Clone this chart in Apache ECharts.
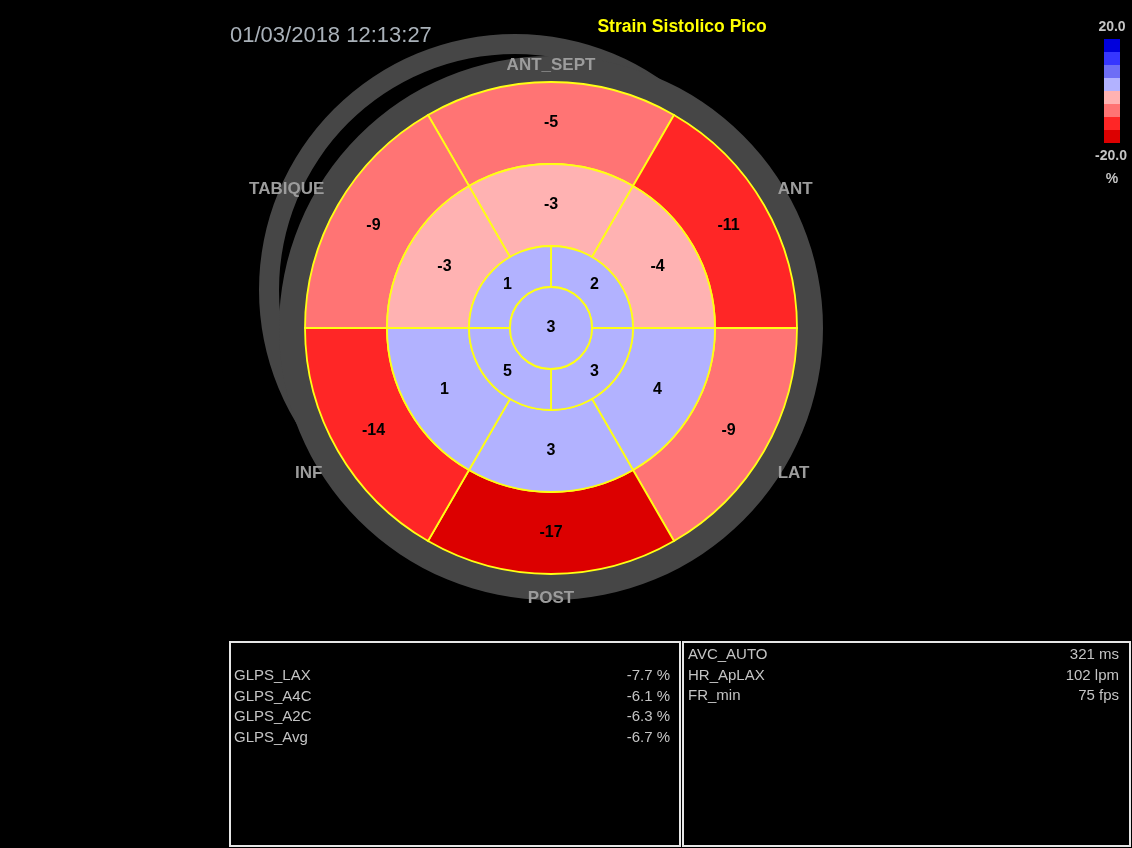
<!DOCTYPE html>
<html>
<head>
<meta charset="utf-8">
<script src="https://cdn.jsdelivr.net/npm/echarts@6/dist/echarts.min.js"></script>
<style>
  html, body { margin: 0; padding: 0; background: #000; }
  #chart { width: 1132px; height: 848px; }
</style>
</head>
<body>
<div id="chart"></div>
<script>
// Peak systolic strain (%), 17-segment bullseye
const regionNames = ['ANT_SEPT', 'ANT', 'LAT', 'POST', 'INF', 'TABIQUE'];
const basalValues = [-5, -11, -9, -17, -14, -9];   // same order as regionNames
const midValues = [-3, -4, 4, 3, 1, -3];
const apicalValues = [2, 3, 5, 1];                 // from 12 o'clock, clockwise
const apexValue = 3;

const scaleTicks = ['20.0', '-20.0'];
const scaleUnit = '%';
const scaleLevels = [-20, -15, -10, -5, 0, 5, 10, 15, 20];
const scaleColors = ['#dc0000', '#ff2626', '#ff7474', '#ffb2b2', '#b2b2ff', '#6e6ef6', '#3636ff', '#0000dc'];

const glpsNames = ['GLPS_LAX', 'GLPS_A4C', 'GLPS_A2C', 'GLPS_Avg'];
const glpsValues = [-7.7, -6.1, -6.3, -6.7];
const acqNames = ['AVC_AUTO', 'HR_ApLAX', 'FR_min'];
const acqValues = ['321 ms', '102 lpm', '75 fps'];

const titleText = 'Strain Sistolico Pico';
const stampText = '01/03/2018 12:13:27';

// ring extents in radius units: apex, apical, mid, basal
const RINGS = { apex: [0, 1], apical: [1, 2], mid: [2, 4], basal: [4, 6] };

function sixSegments(vals, ring) {
  return vals.map((v, i) => [ring[0], ring[1], -30 + 60 * i, 30 + 60 * i, v]);
}
const segData = [].concat(
  sixSegments(basalValues, RINGS.basal),
  sixSegments(midValues, RINGS.mid),
  apicalValues.map((v, i) => [RINGS.apical[0], RINGS.apical[1], 90 * i, 90 * i + 90, v]),
  [[RINGS.apex[0], RINGS.apex[1], 0, 360, apexValue]]
);

function renderSegment(params, api) {
  const cs = params.coordSys;
  const cx = cs.cx, cy = cs.cy;
  const r0v = api.value(0), r1v = api.value(1), a0 = api.value(2), a1 = api.value(3), v = api.value(4);
  const radiusPx = (rv) => { const p = api.coord([rv, 0]); return Math.hypot(p[0] - cx, p[1] - cy); };
  const p0 = api.coord([1, a0]);
  const start = Math.atan2(p0[1] - cy, p0[0] - cx);
  const end = start + (a1 - a0) * Math.PI / 180;
  const labelR = r0v === 0 ? 0 : (r0v + r1v) / 2;
  const lp = api.coord([labelR, (a0 + a1) / 2]);
  return {
    type: 'group',
    children: [
      {
        type: 'sector',
        shape: { cx: cx, cy: cy, r0: radiusPx(r0v), r: radiusPx(r1v), startAngle: start, endAngle: end, clockwise: true },
        style: { fill: api.visual('color'), stroke: '#ffff14', lineWidth: 1.8 }
      },
      {
        type: 'text',
        x: lp[0], y: lp[1],
        style: { text: String(v), fill: '#000', font: 'bold 16px Arial', align: 'center', verticalAlign: 'middle' }
      }
    ]
  };
}

const CX = 551, CY = 328, R = 246;
const GRAY = '#464646';
const TXT = '#c4c4c4';

const graphics = [
  // shadowed outer rim and the rim around the plot
  { type: 'ring', z: -5, shape: { cx: 515, cy: 290, r0: 236, r: 256 }, style: { fill: GRAY } },
  { type: 'ring', z: -4, shape: { cx: CX, cy: CY, r0: R - 2, r: 272 }, style: { fill: GRAY } },
  { type: 'text', x: 230, y: 36, style: { text: stampText, fill: '#a9b1b9', font: '22px Arial', verticalAlign: 'middle' } },
  { type: 'text', x: 682, y: 27, style: { text: titleText, fill: '#ffff00', font: 'bold 17.5px Arial', align: 'center', verticalAlign: 'middle' } },
  // colour scale end values and unit
  { type: 'text', x: 1112, y: 27, style: { text: scaleTicks[0], fill: TXT, font: 'bold 14px Arial', align: 'center', verticalAlign: 'middle' } },
  { type: 'text', x: 1111, y: 156, style: { text: scaleTicks[1], fill: TXT, font: 'bold 14px Arial', align: 'center', verticalAlign: 'middle' } },
  { type: 'text', x: 1112, y: 179, style: { text: scaleUnit, fill: TXT, font: 'bold 14px Arial', align: 'center', verticalAlign: 'middle' } },
  { type: 'rect', shape: { x: 230, y: 642, width: 450, height: 204 }, style: { fill: null, stroke: '#e6e6e6', lineWidth: 2 } },
  { type: 'rect', shape: { x: 683, y: 642, width: 447, height: 204 }, style: { fill: null, stroke: '#e6e6e6', lineWidth: 2 } }
];
glpsNames.forEach((n, i) => {
  const y = 676 + i * 20.5;
  graphics.push({ type: 'text', x: 234, y: y, style: { text: n, fill: TXT, font: '15px Arial', verticalAlign: 'middle' } });
  graphics.push({ type: 'text', x: 670, y: y, style: { text: glpsValues[i].toFixed(1) + ' %', fill: TXT, font: '15px Arial', align: 'right', verticalAlign: 'middle' } });
});
acqNames.forEach((n, i) => {
  const y = 655 + i * 20.5;
  graphics.push({ type: 'text', x: 688, y: y, style: { text: n, fill: TXT, font: '15px Arial', verticalAlign: 'middle' } });
  graphics.push({ type: 'text', x: 1119, y: y, style: { text: acqValues[i], fill: TXT, font: '15px Arial', align: 'right', verticalAlign: 'middle' } });
});

const pieces = scaleColors.map((c, i) => {
  const p = { lte: scaleLevels[i + 1], color: c };
  if (i === 0) p.gte = scaleLevels[i]; else p.gt = scaleLevels[i];
  return p;
});

// per-label box tweaks for the region names around the rim
const rimLabelRich = {
  s0: { lineHeight: 14 },
  s1: { lineHeight: 22, padding: [0, 0, 0, 5] },
  s2: { lineHeight: 34, padding: [0, 0, 0, 5] },
  s3: { lineHeight: 28 },
  s4: { lineHeight: 34, padding: [0, 7, 0, 0] },
  s5: { lineHeight: 22, padding: [0, 5, 0, 0] }
};
Object.keys(rimLabelRich).forEach(k => Object.assign(rimLabelRich[k], {
  color: '#9c9c9c', fontSize: 17, fontWeight: 'bold', fontFamily: 'Arial'
}));

const chart = echarts.init(document.getElementById('chart'), null, { renderer: 'canvas' });
chart.setOption({
  backgroundColor: '#000',
  animation: false,
  polar: [
    { center: [CX, CY], radius: R },
    { center: [CX, CY], radius: R }
  ],
  angleAxis: [
    { polarIndex: 0, type: 'value', min: 0, max: 360, startAngle: 90, clockwise: true, show: false },
    {
      polarIndex: 1, type: 'category', data: regionNames, startAngle: 120, clockwise: true, boundaryGap: true, z: 10,
      axisLine: { show: false }, axisTick: { show: false }, splitLine: { show: false },
      axisLabel: {
        margin: 10,
        formatter: (value, index) => '{s' + index + '|' + value + '}',
        rich: rimLabelRich
      }
    }
  ],
  radiusAxis: [
    { polarIndex: 0, type: 'value', min: 0, max: 6, show: false },
    { polarIndex: 1, type: 'value', min: 0, max: 1, show: false }
  ],
  visualMap: {
    type: 'piecewise',
    seriesIndex: 0,
    dimension: 4,
    pieces: pieces,
    orient: 'vertical',
    left: 1104,
    top: 39,
    padding: 0,
    itemWidth: 16,
    itemHeight: 13,
    itemGap: 0,
    itemSymbol: 'rect',
    showLabel: false,
    hoverLink: false,
    selectedMode: false
  },
  graphic: { elements: graphics },
  series: [
    {
      type: 'custom',
      coordinateSystem: 'polar',
      polarIndex: 0,
      renderItem: renderSegment,
      data: segData,
      z: 2,
      silent: true
    },
    {
      type: 'custom',
      coordinateSystem: 'polar',
      polarIndex: 1,
      renderItem: () => null,
      data: []
    }
  ]
});
</script>
</body>
</html>
